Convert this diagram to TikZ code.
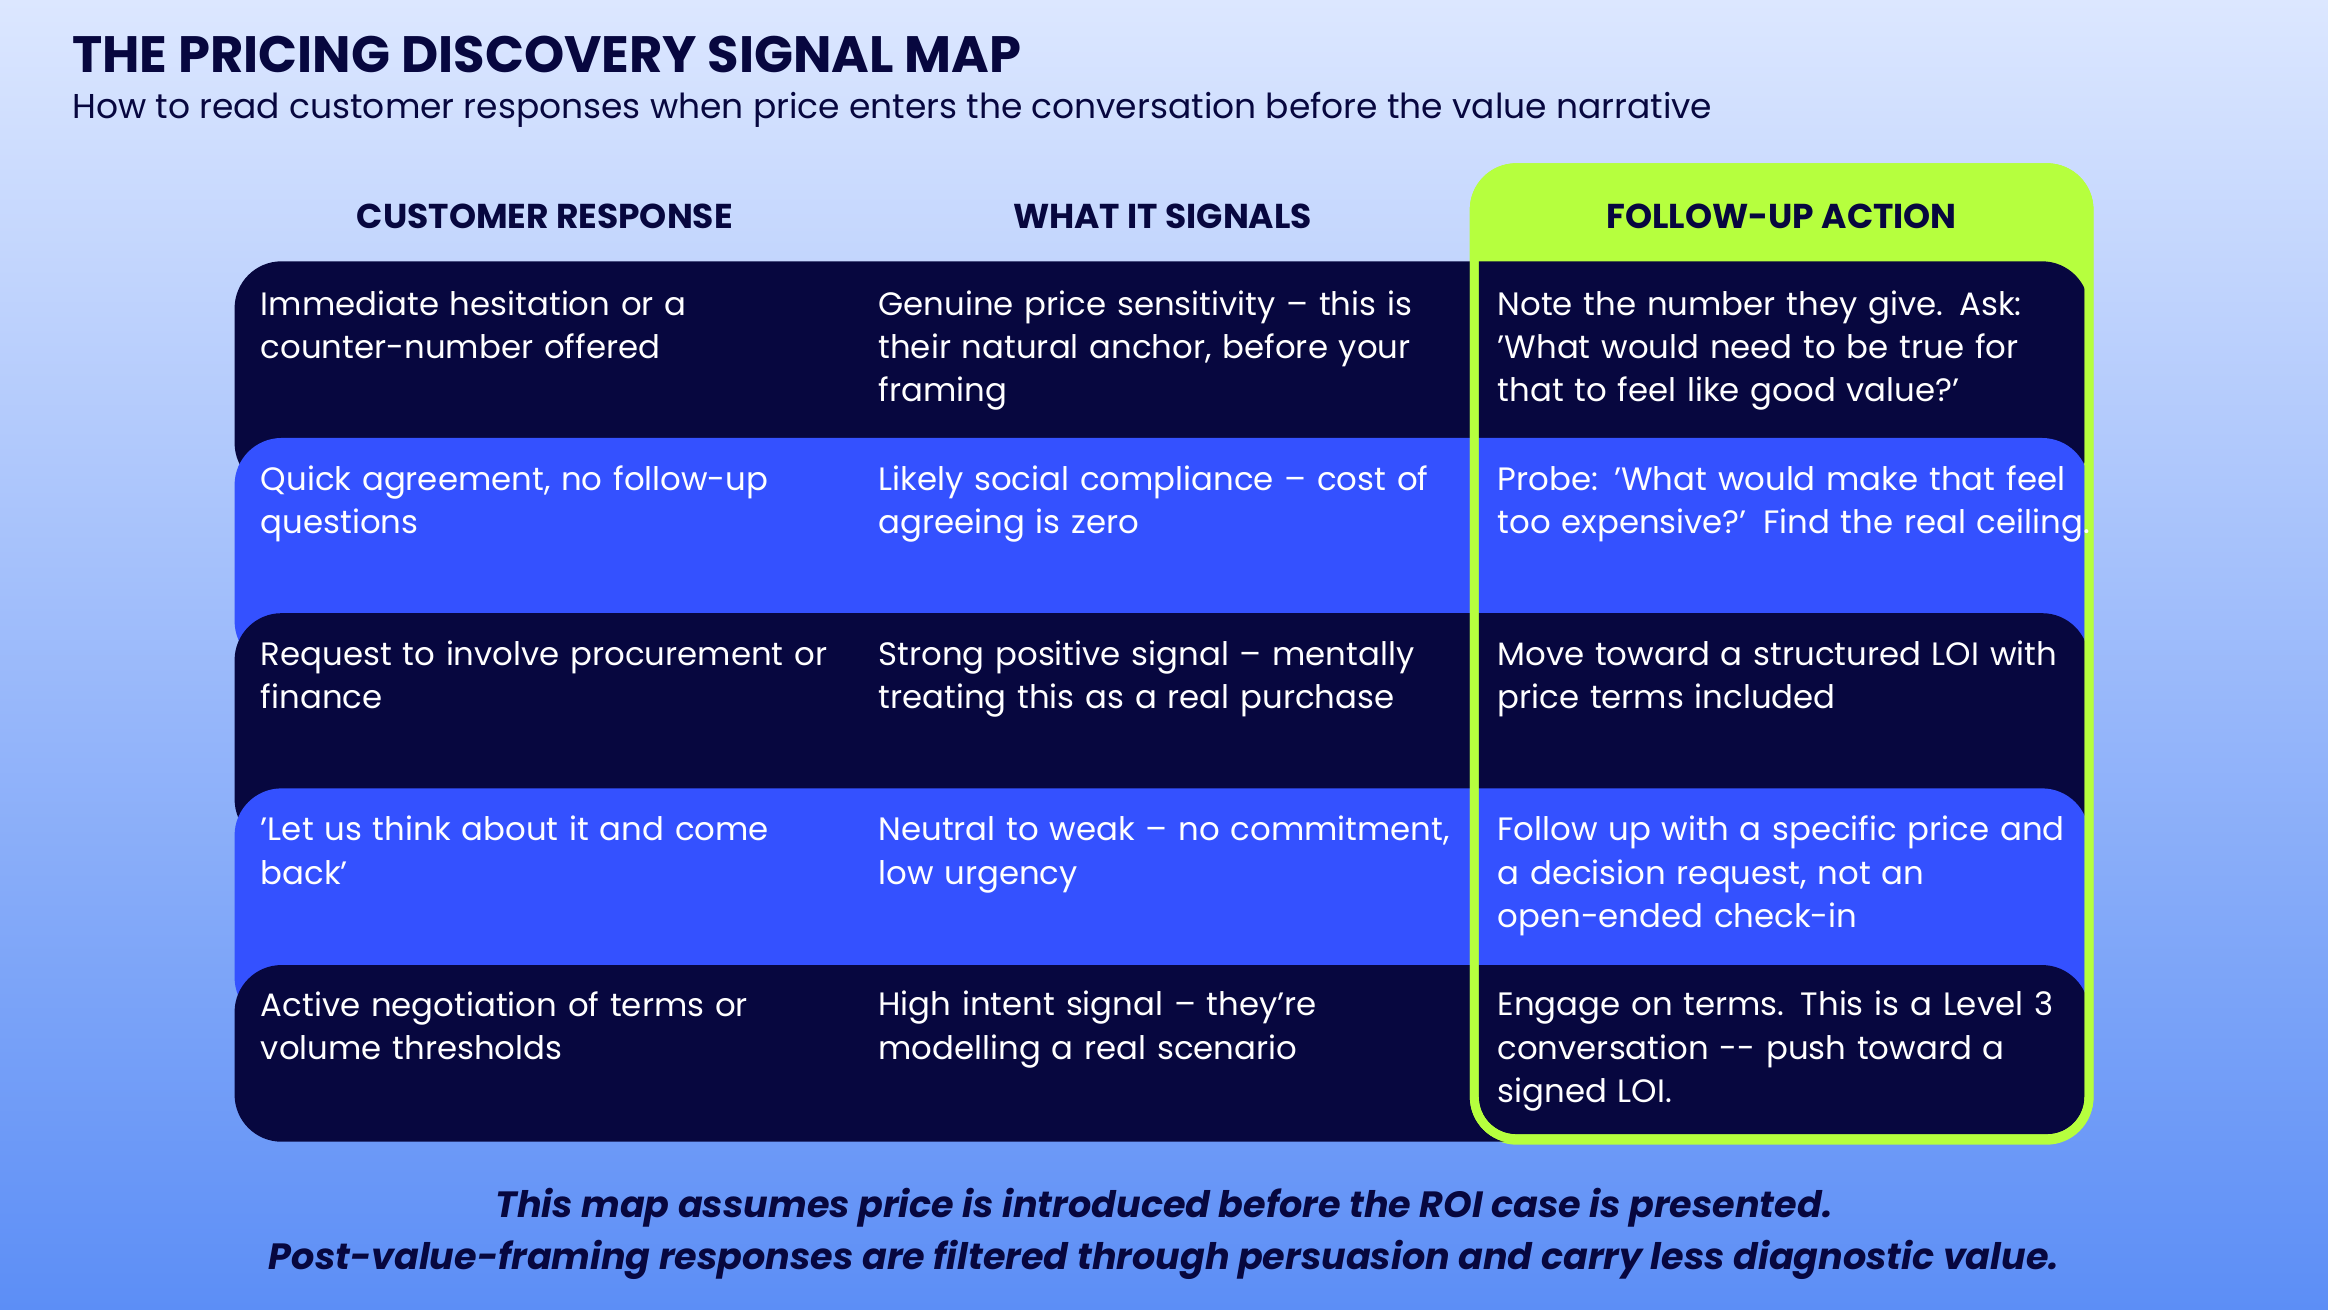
\documentclass[tikz,border=0pt]{standalone}
\usepackage{fontspec}
\setmainfont{Poppins}
\newfontfamily\titlefont{Poppins}
\definecolor{navy}{HTML}{07073F}
\definecolor{royal}{HTML}{3451FF}
\definecolor{lime}{HTML}{B6FF3E}
\definecolor{bgtop}{HTML}{DCE7FF}
\definecolor{bgbot}{HTML}{5C8EF6}
\begin{document}
\begin{tikzpicture}[x=0.01cm,y=-0.01cm,
    cell/.style={anchor=north west,text width=390,align=left,inner sep=0pt,text=white,font=\fontsize{6.2}{8.3}\selectfont},
    head/.style={text=navy,font=\fontsize{6.6}{8}\selectfont\bfseries},
    dark row/.style={fill=navy,rounded corners=9pt},
    blue row/.style={fill=royal,rounded corners=9pt}]

    \shade[top color=bgtop,bottom color=bgbot] (0,0) rectangle (1568,882);
    \useasboundingbox (0,0) rectangle (1568,882);

    \node[anchor=west,inner sep=0pt,text=navy,font=\titlefont\fontsize{9.8}{11}\selectfont\bfseries] (title) at (48,37) {THE PRICING DISCOVERY SIGNAL MAP};
    \node[anchor=west,inner sep=0pt,text=navy,font=\fontsize{6.6}{8}\selectfont] (subtitle) at (48,74) {How to read customer responses when price enters the conversation before the value narrative};

    \fill[lime,rounded corners=9pt] (990,110) rectangle (1410,771);

    \node[head] (h1) at (367,146) {CUSTOMER RESPONSE};
    \node[head] (h2) at (783,146) {WHAT IT SIGNALS};
    \node[head] (h3) at (1200,146) {FOLLOW-UP ACTION};

    \fill[dark row] (158,176) rectangle (1407,330);
    \fill[blue row] (158,295) rectangle (1407,450);
    \fill[dark row] (158,413) rectangle (1407,570);
    \fill[blue row] (158,531) rectangle (1407,690);
    \fill[dark row] (158,650) rectangle (1407,769);

    \draw[lime,line width=1.7pt,rounded corners=8pt] (993,176) -- (993,113) -- (1407,113) -- (1407,767) -- (993,767) -- cycle;
    \draw[lime,line width=1.7pt,rounded corners=8pt] (993,113) rectangle (1407,767);

    \node[cell] (r1a) at (175,195) {Immediate hesitation or a\\counter-number offered};
    \node[cell] (r1b) at (591,195) {Genuine price sensitivity -- this is\\their natural anchor, before your\\framing};
    \node[cell] (r1c) at (1008,195) {Note the number they give. Ask:\\'What would need to be true for\\that to feel like good value?'};

    \node[cell] (r2a) at (175,313) {Quick agreement, no follow-up\\questions};
    \node[cell] (r2b) at (591,313) {Likely social compliance -- cost of\\agreeing is zero};
    \node[cell] (r2c) at (1008,313) {Probe: 'What would make that feel\\too expensive?' Find the real ceiling.};

    \node[cell] (r3a) at (175,431) {Request to involve procurement or\\finance};
    \node[cell] (r3b) at (591,431) {Strong positive signal -- mentally\\treating this as a real purchase};
    \node[cell] (r3c) at (1008,431) {Move toward a structured LOI with\\price terms included};

    \node[cell] (r4a) at (175,549) {'Let us think about it and come\\back'};
    \node[cell] (r4b) at (591,549) {Neutral to weak -- no commitment,\\low urgency};
    \node[cell] (r4c) at (1008,549) {Follow up with a specific price and\\a decision request, not an\\open-ended check-in};

    \node[cell] (r5a) at (175,667) {Active negotiation of terms or\\volume thresholds};
    \node[cell] (r5b) at (591,667) {High intent signal -- they're\\modelling a real scenario};
    \node[cell] (r5c) at (1008,667) {Engage on terms. This is a Level 3\\conversation {-}{-} push toward a\\signed LOI.};

    \node[align=center,inner sep=0pt,text=navy,font=\fontsize{7}{9.9}\selectfont\bfseries\itshape] (note) at (784,831) {This map assumes price is introduced before the ROI case is presented.\\Post-value-framing responses are filtered through persuasion and carry less diagnostic value.};
\end{tikzpicture}
\end{document}
